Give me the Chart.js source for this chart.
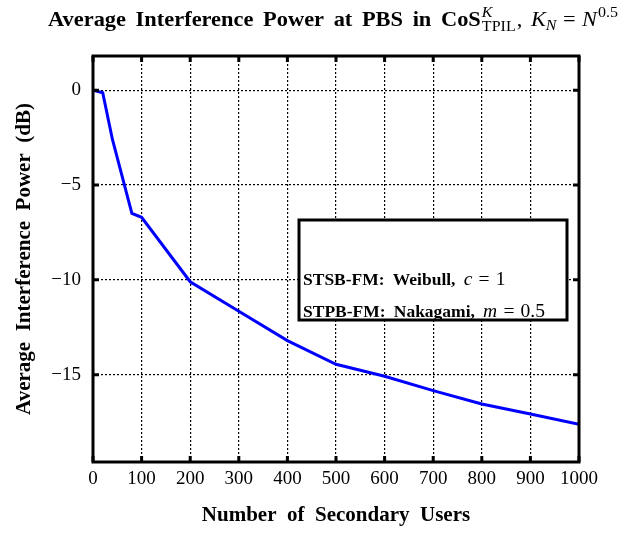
<!DOCTYPE html>
<html><head><meta charset="utf-8">
<script src="https://cdn.jsdelivr.net/npm/chart.js@4"></script>
<style>html,body{margin:0;padding:0;background:#fff;}</style>
</head><body>
<canvas id="c" width="624" height="536" style="display:block;width:624px;height:536px"></canvas>
<script>
const users = [0, 20, 40, 80, 100, 200, 300, 400, 500, 600, 700, 800, 900, 1000];
const interferenceDb = [0, -0.14, -2.6, -6.5, -6.7, -10.1, -11.65, -13.2, -14.45, -15.08, -15.84, -16.54, -17.07, -17.61];
const xTickValues = [0, 100, 200, 300, 400, 500, 600, 700, 800, 900, 1000];
const yTickValues = [-15, -10, -5, 0];
const xLabel = 'Number\u2002of\u2002Secondary\u2002Users';
const yLabel = 'Average\u2002Interference\u2002Power\u2002(dB)';

const SERIF = '"Liberation Serif", "Times New Roman", serif';

function measurePieces(ctx, pieces) {
  let w = 0;
  pieces.forEach(p => {
    if (p.stack) {
      ctx.font = p.supF; const a = ctx.measureText(p.sup).width;
      ctx.font = p.subF; const b = ctx.measureText(p.sub).width;
      p.w = Math.max(a, b);
    } else { ctx.font = p.f; p.w = ctx.measureText(p.t).width; }
    w += p.w + (p.g || 0);
  });
  return w;
}

function drawFlow(ctx, pieces, x0, baseline, scaleX) {
  ctx.save();
  ctx.translate(x0, baseline);
  ctx.scale(scaleX, 1);
  ctx.fillStyle = '#000';
  ctx.textBaseline = 'alphabetic';
  ctx.textAlign = 'left';
  let x = 0;
  pieces.forEach(p => {
    if (p.stack) {
      ctx.font = p.supF; ctx.fillText(p.sup, x, p.supDy);
      ctx.font = p.subF; ctx.fillText(p.sub, x, p.subDy);
    } else { ctx.font = p.f; ctx.fillText(p.t, x, p.dy || 0); }
    x += p.w + (p.g || 0);
  });
  ctx.restore();
}

const framePlugin = {
  id: 'frame',
  afterDraw(chart) {
    const {ctx, chartArea: a, scales} = chart;
    ctx.save();
    ctx.strokeStyle = '#000'; ctx.lineWidth = 3; ctx.lineCap = 'butt';
    const tl = 6;
    xTickValues.forEach(v => {
      const px = scales.x.getPixelForValue(v);
      ctx.beginPath();
      ctx.moveTo(px, a.bottom); ctx.lineTo(px, a.bottom - tl);
      ctx.moveTo(px, a.top); ctx.lineTo(px, a.top + tl);
      ctx.stroke();
    });
    yTickValues.forEach(v => {
      const py = scales.y.getPixelForValue(v);
      ctx.beginPath();
      ctx.moveTo(a.left, py); ctx.lineTo(a.left + tl, py);
      ctx.moveTo(a.right, py); ctx.lineTo(a.right - tl, py);
      ctx.stroke();
    });
    ctx.strokeRect(a.left, a.top, a.right - a.left, a.bottom - a.top);

    // legend box
    const bx = 299, by = 220, bw = 268, bh = 100;
    ctx.fillStyle = '#fff';
    ctx.fillRect(bx, by, bw, bh);
    ctx.lineWidth = 3;
    ctx.strokeRect(bx, by, bw, bh);
    const B = 'bold 17px ' + SERIF, I = 'italic 19px ' + SERIF, N = '19px ' + SERIF;
    const line1 = [
      {t: 'STSB-FM:', f: B, g: 8}, {t: 'Weibull,', f: B, g: 8},
      {t: 'c', f: I, g: 6}, {t: '=', f: N, g: 6}, {t: '1', f: N}
    ];
    const line2 = [
      {t: 'STPB-FM:', f: B, g: 8}, {t: 'Nakagami,', f: B, g: 8},
      {t: 'm', f: I, g: 6}, {t: '=', f: N, g: 6}, {t: '0.5', f: N}
    ];
    measurePieces(ctx, line1);
    const w2 = measurePieces(ctx, line2);
    const ls = 242 / w2;
    drawFlow(ctx, line1, 303, 285, ls);
    drawFlow(ctx, line2, 303, 317, ls);

    // title
    const TB = 'bold 21px ' + SERIF, TN = '21px ' + SERIF, TI = 'italic 21px ' + SERIF;
    const sI = 'italic 15px ' + SERIF, sN = '15px ' + SERIF;
    const title = [
      {t: 'Average', f: TB, g: 9}, {t: 'Interference', f: TB, g: 9},
      {t: 'Power', f: TB, g: 9}, {t: 'at', f: TB, g: 9},
      {t: 'PBS', f: TB, g: 9}, {t: 'in', f: TB, g: 9},
      {t: 'CoS', f: TB, g: 1},
      {stack: true, sup: 'K', supF: sI, supDy: -9, sub: 'TPIL', subF: sN, subDy: 5, g: 1},
      {t: ',', f: TN, g: 8},
      {t: 'K', f: TI, g: 0}, {t: 'N', f: sI, dy: 4, g: 6},
      {t: '=', f: TN, g: 6},
      {t: 'N', f: TI, g: 1}, {t: '0.5', f: sN, dy: -9}
    ];
    const tw = measurePieces(ctx, title);
    drawFlow(ctx, title, 48, 26, 570 / tw);
    ctx.restore();
  }
};

const fmt = v => (v < 0 ? '\u2212' + Math.abs(v) : String(v));

new Chart(document.getElementById('c'), {
  type: 'line',
  data: {
    datasets: [{
      data: users.map((u, i) => ({x: u, y: interferenceDb[i]})),
      borderColor: '#0000ff',
      borderWidth: 3,
      pointRadius: 0,
      tension: 0,
      fill: false
    }]
  },
  options: {
    responsive: false,
    animation: false,
    devicePixelRatio: 1,
    layout: {padding: {top: 56, right: 45, bottom: 0, left: 0}},
    plugins: {legend: {display: false}, tooltip: {enabled: false}, title: {display: false}},
    scales: {
      x: {
        type: 'linear', min: 0, max: 1000,
        afterFit: s => { s.height = 74; },
        afterBuildTicks: s => { s.ticks = xTickValues.map(v => ({value: v})); },
        ticks: {callback: fmt, color: '#000', font: {family: SERIF, size: 19}, padding: 6, maxRotation: 0, autoSkip: false},
        grid: {color: '#000', lineWidth: 1.2, drawTicks: false},
        border: {display: false, dash: [2, 2]},
        title: {display: true, text: xLabel, color: '#000', font: {family: SERIF, size: 21, weight: 'bold'}, padding: {top: 0, bottom: 8}}
      },
      y: {
        type: 'linear', min: -19.6, max: 1.8,
        afterFit: s => { s.width = 93; },
        afterBuildTicks: s => { s.ticks = yTickValues.map(v => ({value: v})); },
        ticks: {callback: fmt, color: '#000', font: {family: SERIF, size: 19}, padding: 12, autoSkip: false},
        grid: {color: '#000', lineWidth: 1.2, drawTicks: false},
        border: {display: false, dash: [2, 2]},
        title: {display: true, text: yLabel, color: '#000', font: {family: SERIF, size: 21, weight: 'bold'}, padding: {top: 12, bottom: 0}}
      }
    }
  },
  plugins: [framePlugin]
});
</script>
</body></html>
